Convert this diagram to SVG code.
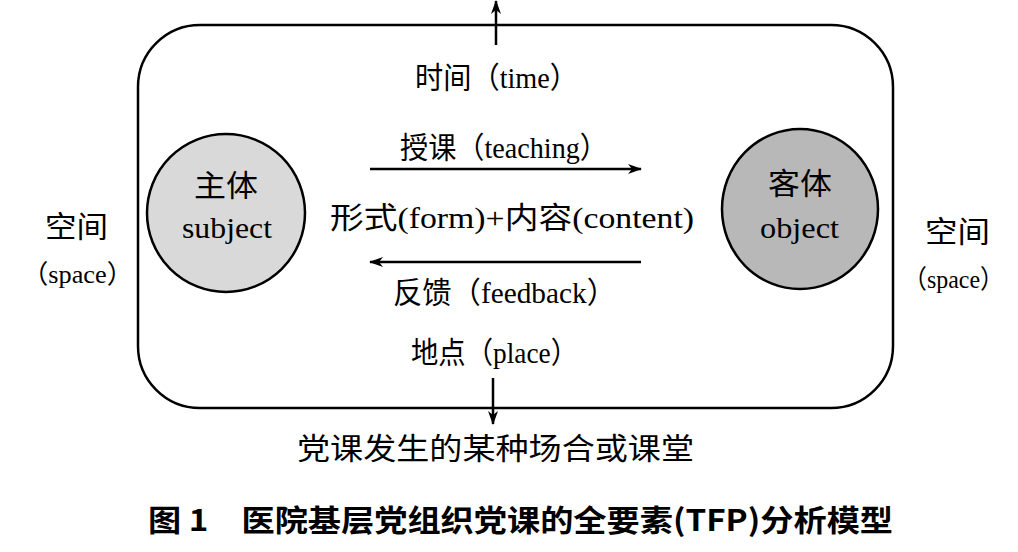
<svg xmlns="http://www.w3.org/2000/svg" width="1018" height="552" viewBox="0 0 1018 552">
<defs>
<marker id="ah" markerWidth="14" markerHeight="10" refX="13" refY="5" orient="auto" markerUnits="userSpaceOnUse">
<path d="M0,0 L14,5 L0,10 L4,5 Z" fill="#000"/>
</marker>
<style>
text{font-family:"Liberation Serif","Noto Sans CJK SC",serif;font-size:30px;fill:#000}
.s{font-size:26px}
.t{font-weight:bold;font-size:30px;font-family:"Noto Sans CJK SC","Liberation Sans",sans-serif}
.ln{stroke:#000;stroke-width:2.5;fill:none}
</style>
</defs>
<rect width="1018" height="552" fill="#fff"/>
<g id="frame">
<rect x="138" y="25" width="755" height="383" rx="62" ry="62" fill="none" stroke="#000" stroke-width="2.5"/>
</g>
<g id="connectors">
<line class="ln" x1="496" y1="45" x2="496" y2="1" marker-end="url(#ah)"/>
<line class="ln" x1="493" y1="378" x2="493" y2="424" marker-end="url(#ah)"/>
<line class="ln" x1="370" y1="169" x2="641" y2="169" marker-end="url(#ah)"/>
<line class="ln" x1="641" y1="262" x2="370" y2="262" marker-end="url(#ah)"/>
</g>
<g id="subject">
<ellipse cx="226" cy="213" rx="79" ry="79" fill="#d9d9d9" stroke="#000" stroke-width="2.5"/>
<text x="194" y="196" textLength="64" lengthAdjust="spacingAndGlyphs">主体</text>
<text x="182" y="238" textLength="90" lengthAdjust="spacingAndGlyphs">subject</text>
</g>
<g id="object">
<ellipse cx="800" cy="209" rx="78" ry="80" fill="#b8b8b8" stroke="#000" stroke-width="2.5"/>
<text x="768" y="194" textLength="64" lengthAdjust="spacingAndGlyphs">客体</text>
<text x="760" y="238" textLength="79" lengthAdjust="spacingAndGlyphs">object</text>
</g>
<g id="labels">
<text x="415" y="88" textLength="163" lengthAdjust="spacingAndGlyphs">时间（time）</text>
<text x="400" y="158" textLength="208" lengthAdjust="spacingAndGlyphs">授课（teaching）</text>
<text x="330" y="228" textLength="364" lengthAdjust="spacingAndGlyphs">形式(form)+内容(content)</text>
<text x="393" y="303" textLength="223" lengthAdjust="spacingAndGlyphs">反馈（feedback）</text>
<text x="411" y="363" textLength="167" lengthAdjust="spacingAndGlyphs">地点（place）</text>
<text x="297" y="459" textLength="397" lengthAdjust="spacingAndGlyphs">党课发生的某种场合或课堂</text>
<text x="45" y="237" textLength="63" lengthAdjust="spacingAndGlyphs">空间</text>
<text class="s" x="22" y="283" textLength="111" lengthAdjust="spacingAndGlyphs">（space）</text>
<text x="925" y="242" textLength="65" lengthAdjust="spacingAndGlyphs">空间</text>
<text class="s" x="903" y="288" textLength="101" lengthAdjust="spacingAndGlyphs">（space）</text>
<text class="t" x="148" y="531" textLength="745" lengthAdjust="spacingAndGlyphs">图 1　医院基层党组织党课的全要素(TFP)分析模型</text>
</g>
</svg>
